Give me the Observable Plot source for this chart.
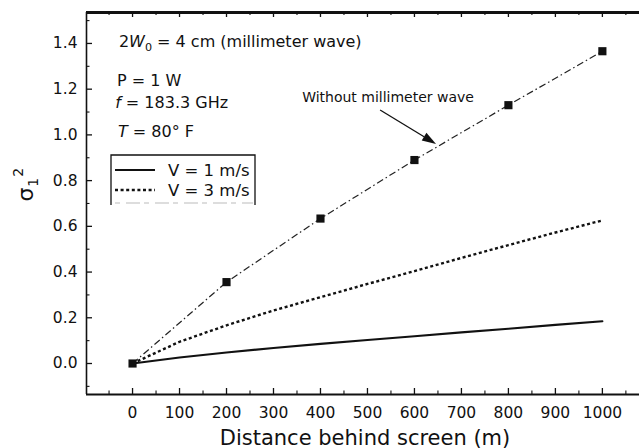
<!DOCTYPE html>
<html>
<head>
<meta charset="utf-8">
<script src="https://cdn.jsdelivr.net/npm/d3@7"></script>
<script src="https://cdn.jsdelivr.net/npm/@observablehq/plot@0.6"></script>
<style>
  body { margin: 0; background: #fff; }
  #chart svg { display: block; }
</style>
</head>
<body>
<div id="chart"></div>
<script>
// ---- data ----
const distWithout = [0, 200, 400, 600, 800, 1000];
const sigmaWithout = [0, 0.356, 0.634, 0.89, 1.13, 1.366];

const distV = [0, 100, 200, 300, 400, 500, 600, 700, 800, 900, 1000];
const sigmaV1 = [0, 0.026, 0.048, 0.068, 0.086, 0.103, 0.119, 0.136, 0.152, 0.169, 0.185];
const sigmaV3 = [0, 0.095, 0.167, 0.232, 0.29, 0.348, 0.404, 0.462, 0.518, 0.573, 0.626];

const xTickLabels = [0, 100, 200, 300, 400, 500, 600, 700, 800, 900, 1000];
const xMinorTicks = [-50, 50, 150, 250, 350, 450, 550, 650, 750, 850, 950, 1050];
const yTickLabels = [0, 0.2, 0.4, 0.6, 0.8, 1.0, 1.2, 1.4];
const yMinorTicks = [-0.1, 0.1, 0.3, 0.5, 0.7, 0.9, 1.1, 1.3, 1.5];

const legendLabels = ["V = 1 m/s", "V = 3 m/s"];
const xTitle = "Distance behind screen (m)";
const arrowText = "Without millimeter wave";

// ---- build tables ----
const without = distWithout.map((d, i) => ({x: d, y: sigmaWithout[i]}));
const v1 = distV.map((d, i) => ({x: d, y: sigmaV1[i]}));
const v3 = distV.map((d, i) => ({x: d, y: sigmaV3[i]}));

const W = 639, H = 448;
const mL = 86, mR = 0, mT = 12, mB = 54;
const xDomain = [-98, 1079];
const yDomain = [-0.1356, 1.5354];
const pw = W - mL - mR, ph = H - mT - mB;
const FONT = "DejaVu Sans";
const INK = "#111";

const plot = Plot.plot({
  width: W, height: H,
  marginLeft: mL, marginRight: mR, marginTop: mT, marginBottom: mB,
  x: {domain: xDomain},
  y: {domain: yDomain},
  style: {fontFamily: FONT, fontSize: "15.5px", color: INK, background: "#fff"},
  marks: [
    // axis lines
    Plot.ruleY([yDomain[0]], {stroke: INK, strokeWidth: 2.2}),
    Plot.ruleY([yDomain[1]], {stroke: INK, strokeWidth: 2.8}),
    Plot.ruleX([xDomain[0]], {stroke: INK, strokeWidth: 1.6}),
    // inward ticks
    Plot.tickX(xTickLabels, {x: d => d, insetTop: ph - 6, stroke: INK, strokeWidth: 1.3}),
    Plot.tickX(xMinorTicks, {x: d => d, insetTop: ph - 3.5, stroke: INK, strokeWidth: 1.1}),
    Plot.tickX(xTickLabels, {x: d => d, insetBottom: ph - 5, stroke: INK, strokeWidth: 1.3}),
    Plot.tickX(xMinorTicks, {x: d => d, insetBottom: ph - 3, stroke: INK, strokeWidth: 1.1}),
    Plot.tickY(yTickLabels, {y: d => d, insetRight: pw - 6, stroke: INK, strokeWidth: 1.3}),
    Plot.tickY(yMinorTicks, {y: d => d, insetRight: pw - 3.5, stroke: INK, strokeWidth: 1.1}),
    // axes labels
    Plot.axisX(xTickLabels, {tickSize: 0, tickPadding: 12, label: null, fontSize: 15.5, tickFormat: d3.format("d")}),
    Plot.axisY(yTickLabels, {tickSize: 0, tickPadding: 9, label: null, fontSize: 15.5, tickFormat: d3.format(".1f")}),
    Plot.text([xTitle], {frameAnchor: "bottom", dy: 50, dx: 2, lineAnchor: "bottom", fontSize: 21, fill: INK}),
    // data lines
    Plot.line(v1, {x: "x", y: "y", stroke: INK, strokeWidth: 2.1}),
    Plot.line(v3, {x: "x", y: "y", stroke: INK, strokeWidth: 2.4, strokeDasharray: "3,2.6", strokeLinecap: "butt"}),
    Plot.line(without, {x: "x", y: "y", stroke: "#222", strokeWidth: 1.2, strokeDasharray: "7,3,1.5,3", strokeLinecap: "butt"}),
    Plot.dot(without, {x: "x", y: "y", symbol: "square", r: 4.6, fill: INK, stroke: "none"})
  ]
});

document.getElementById("chart").appendChild(plot);

const sx = plot.scale("x").apply, sy = plot.scale("y").apply;
const svg = d3.select(plot);
const g = svg.append("g").attr("font-family", FONT).attr("fill", INK)
  .attr("text-anchor", "start").attr("stroke-linecap", "butt");

// y-axis title sigma_1^2
const yl = g.append("text")
  .attr("transform", `translate(33,${(sy(0.76) + sy(0.8)) / 2}) rotate(-90)`)
  .attr("text-anchor", "middle");
yl.append("tspan").attr("font-size", 22).text("σ");
yl.append("tspan").attr("font-size", 14).attr("dy", 5).attr("dx", 1).text("1");
yl.append("tspan").attr("font-size", 14).attr("dy", -15).attr("dx", 1).text("2");

// annotation block (positions in data coordinates)
function rich(x, y, parts, size) {
  const t = g.append("text").attr("x", sx(x)).attr("y", sy(y)).attr("font-size", size);
  for (const p of parts) {
    const s = t.append("tspan").text(p.t);
    if (p.i) s.attr("font-style", "italic");
    if (p.sub) s.attr("font-size", size * 0.7).attr("dy", 4);
    if (p.after) s.attr("dy", -4);
  }
  return t;
}
rich(-28, 1.382, [{t: "2"}, {t: "W", i: true}, {t: "0", sub: true}, {t: " = 4 cm (millimeter wave)", after: true}], 16);
rich(-32, 1.212, [{t: "P = 1 W"}], 16);
rich(-36, 1.115, [{t: "f", i: true}, {t: " = 183.3 GHz"}], 16);
rich(-30, 0.989, [{t: "T", i: true}, {t: " = 80° F"}], 16);
rich(362, 1.142, [{t: arrowText}], 14);

// arrow with filled head
const a0 = [sx(528), sy(1.107)], a1 = [sx(647), sy(0.958)];
const dx = a1[0] - a0[0], dy = a1[1] - a0[1], len = Math.hypot(dx, dy);
const ux = dx / len, uy = dy / len, hl = 14, hw = 4.5;
const bx = a1[0] - ux * hl, by = a1[1] - uy * hl;
g.append("line").attr("x1", a0[0]).attr("y1", a0[1]).attr("x2", bx).attr("y2", by)
  .attr("stroke", INK).attr("stroke-width", 1.3);
g.append("path")
  .attr("d", `M${a1[0]},${a1[1]}L${bx - uy * hw},${by + ux * hw}L${bx + uy * hw},${by - ux * hw}Z`)
  .attr("fill", INK);

// legend box (clipped like the original)
const lx0 = 111, lx1 = 255, ly0 = 155, ly1 = 205;
g.append("path").attr("d", `M${lx0},${ly1}V${ly0}H${lx1}V${ly1}`)
  .attr("fill", "none").attr("stroke", INK).attr("stroke-width", 1.3);
g.append("line").attr("x1", 115).attr("x2", 253).attr("y1", 203).attr("y2", 203)
  .attr("stroke", "#bbb").attr("stroke-width", 1.2).attr("stroke-dasharray", "5,6,14,4");
const entries = [
  {label: legendLabels[0], dash: null, w: 2.1, y: 170},
  {label: legendLabels[1], dash: "3,2.6", w: 2.4, y: 190}
];
for (const e of entries) {
  const ln = g.append("line").attr("x1", 115).attr("x2", 155).attr("y1", e.y).attr("y2", e.y)
    .attr("stroke", INK).attr("stroke-width", e.w);
  if (e.dash) ln.attr("stroke-dasharray", e.dash);
  g.append("text").attr("x", 168).attr("y", e.y + 5.5).attr("font-size", 16.5).text(e.label);
}
</script>
</body>
</html>
